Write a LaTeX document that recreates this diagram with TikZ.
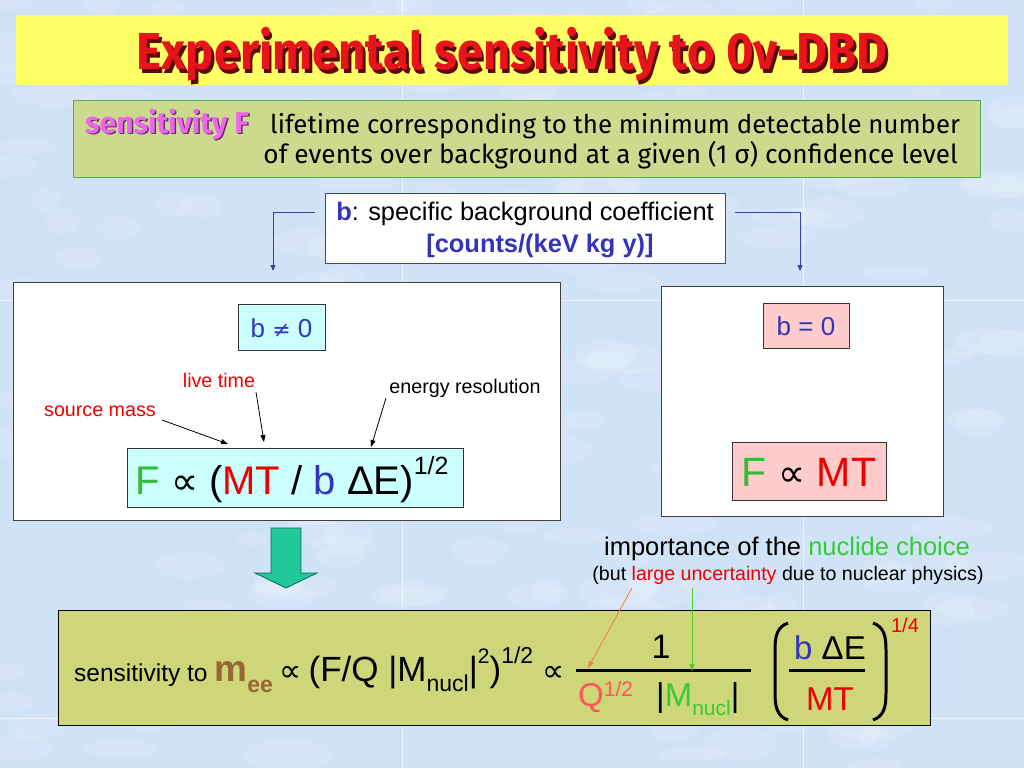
\documentclass[tikz,border=0pt]{standalone}
\usepackage{fontspec}
\setmainfont{Liberation Sans}
\newfontfamily\comic{Fira Sans}
\newfontfamily\symf{DejaVu Sans}
\usetikzlibrary{arrows.meta,calc}
\definecolor{bgblue}{HTML}{CFE2F6}
\definecolor{tyellow}{HTML}{FFFF66}
\definecolor{tred}{HTML}{E8141B}
\definecolor{tshadow}{HTML}{5A0A0A}
\definecolor{gboxfill}{HTML}{CCDA8E}
\definecolor{gboxdraw}{HTML}{55AA55}
\definecolor{bboxfill}{HTML}{CFD67A}
\definecolor{cyanfill}{HTML}{CCFFFF}
\definecolor{pinkfill}{HTML}{FFCCCC}
\definecolor{bblue}{HTML}{3333BB}
\definecolor{fgreen}{HTML}{33BB33}
\definecolor{ngreen}{HTML}{33CC33}
\definecolor{mred}{HTML}{EE0000}
\definecolor{qred}{HTML}{FF5555}
\definecolor{mbrown}{HTML}{996633}
\definecolor{magF}{HTML}{EE66EE}
\definecolor{magshadow}{HTML}{663366}
\definecolor{conblue}{HTML}{3344AA}
\definecolor{arrfill}{HTML}{20C997}
\definecolor{arrdraw}{HTML}{0E6655}
\definecolor{oarrow}{HTML}{F08040}
\definecolor{garrow}{HTML}{55CC22}
\newcommand{\fs}[1]{\fontsize{#1}{#1}\selectfont}
\newcommand{\myup}[2]{\raisebox{0.5em}{\fs{#1}#2}}
\newcommand{\mylowup}[2]{\raisebox{0.3em}{\fs{#1}#2}}
\newcommand{\mydown}[2]{\raisebox{-0.3em}{\fs{#1}#2}}
\newcommand{\shadowed}[4]{\rlap{\hspace{#4}\raisebox{-#4}{\textcolor{#2}{#1}}}\textcolor{#3}{#1}}
\begin{document}
\begin{tikzpicture}[x=1pt,y=-1pt,
  txt/.style={inner sep=0pt,anchor=base},
  panel/.style={draw=black!75,fill=white,line width=0.8pt,inner sep=0pt},
  cbox/.style={draw=black!80,fill=cyanfill,line width=0.8pt,inner sep=0pt},
  pbox/.style={draw=black!80,fill=pinkfill,line width=0.8pt,inner sep=0pt},
  conn/.style={draw=conblue,line width=0.8pt,-{Triangle[length=6pt,width=5pt]}},
  blk/.style={draw=black,line width=0.8pt,-{Triangle[length=7pt,width=5pt]}},
  thinarr/.style={line width=0.8pt,-{Triangle[length=7pt,width=5pt]}}]
\useasboundingbox (0,0) rectangle (1024,768);
\fill[bgblue] (0,0) rectangle (1024,768);
\pgfmathsetseed{11}
\foreach \i in {1,...,220}{
  \pgfmathsetmacro{\cx}{1024*rnd}
  \pgfmathsetmacro{\cy}{768*rnd}
  \pgfmathsetmacro{\rx}{15+30*rnd}
  \pgfmathsetmacro{\ry}{7+10*rnd}
  \fill[white,opacity=0.13] (\cx,\cy) ellipse [x radius=\rx, y radius=\ry];
}
\draw[white,opacity=0.7,line width=1pt] (402,0) -- (402,768) (803,0) -- (803,768) (0,300) -- (1024,300) (0,718) -- (1024,718);
% title
\node[fill=tyellow,minimum width=992,minimum height=70,inner sep=0pt] (titlebox) at (512,50) {};
\node[txt] (title) at (512,70) {\comic\bfseries\fs{52}\scalebox{0.91}[1]{\shadowed{Experimental sensitivity to 0ν-DBD}{tshadow}{tred}{3pt}}};
% green definition box
\node[fill=gboxfill,draw=gboxdraw,line width=0.8pt,minimum width=907,minimum height=77,inner sep=0pt] (defbox) at (526.5,138.5) {};
\node[txt,anchor=base west] (sensF) at (85,133) {\comic\bfseries\fs{30}\shadowed{sensitivity F}{magshadow}{magF}{1.5pt}};
\node[txt,anchor=base west] (def1) at (270,133) {\comic\fs{25.8}lifetime corresponding to the minimum detectable number};
\node[txt,anchor=base east] (def2) at (958,163) {\comic\fs{26.2}of events over background at a given (1 σ) confidence level};
% b box
\node[draw=conblue,fill=white,line width=0.8pt,minimum width=400,minimum height=70,inner sep=0pt] (bbox) at (525,228) {};
\node[txt] (b1) at (525,220) {\fs{25.4}\textcolor{bblue}{\bfseries b}: specific background coefficient};
\node[txt] (b2) at (540,252) {\fs{25.4}\bfseries\textcolor{bblue}{[counts/(keV kg y)]}};
\coordinate (lt) at (273,271);
\coordinate (rt) at (800,271);
\draw[conn] ($(bbox.north west)+(-10,20)$) -| (lt);
\draw[conn] ($(bbox.north east)+(10,20)$) -| (rt);
% left panel
\node[panel,minimum width=547,minimum height=238] (lpanel) at (286.5,401) {};
\node[cbox,minimum width=87,minimum height=46] (bne) at (281.5,327) {};
\node[txt] (bnet) at (281.5,337) {\fs{26}\textcolor{bblue}{b {\symf\fs{22}≠} 0}};
\node[txt,text=mred] (live) at (219,387) {\fs{19.7}live time};
\node[txt,text=mred] (source) at (100,416) {\fs{19.7}source mass};
\node[txt] (energy) at (465,393) {\fs{19.7}energy resolution};
\node[cbox,minimum width=336,minimum height=59] (fbox) at (295,477.5) {};
\node[txt] (ftext) at (292,494) {\fs{40}\textcolor{fgreen}{F} {\symf\fs{38}∝} (\textcolor{mred}{MT} / \textcolor{bblue}{b} ΔE)\myup{25}{1/2}};
\coordinate (sa) at (162,420); \coordinate (sb) at (228,444);
\coordinate (la) at (256,392); \coordinate (lb) at (264,442);
\coordinate (ea) at (386,398); \coordinate (eb) at (371,447);
\draw[blk] (sa) -- (sb);
\draw[blk] (la) -- (lb);
\draw[blk] (ea) -- (eb);
% right panel
\node[panel,minimum width=282,minimum height=230] (rpanel) at (802,401) {};
\node[pbox,minimum width=86,minimum height=45] (beq) at (806,325.5) {};
\node[txt] (beqt) at (806,335) {\fs{26}\textcolor{bblue}{b = 0}};
\node[pbox,minimum width=154,minimum height=58] (mtbox) at (809,471) {};
\node[txt] (mtt) at (809,486) {\fs{41}\textcolor{fgreen}{F} {\symf\fs{38}∝} \textcolor{mred}{MT}};
% green block arrow
\draw[fill=arrfill,draw=arrdraw,line width=0.8pt] (271,528) -- (301,528) -- (301,573) -- (317,573) -- (286,588) -- (255,573) -- (271,573) -- cycle;
% importance text
\node[txt] (imp1) at (787,555) {\fs{25.5}importance of the \textcolor{ngreen}{nuclide choice}};
\node[txt] (imp2) at (788,580) {\fs{19.6}(but \textcolor{mred}{large uncertainty} due to nuclear physics)};
% bottom box
\node[draw=black,fill=bboxfill,line width=0.8pt,minimum width=872,minimum height=115,inner sep=0pt] (botbox) at (494,667.5) {};
\node[txt,anchor=base west] (sens) at (74,681) {\fs{24.5}sensitivity to \textcolor{mbrown}{\bfseries\fs{37}m\mydown{23}{ee}} {\symf\fs{31}∝} \fs{35}(F/Q |M\mydown{23}{nucl}|\myup{21}{2})\myup{23}{1/2} {\symf\fs{31}∝}};
\node[txt] (one) at (661,658) {\fs{34}1};
\coordinate (fl1) at (576,670); \coordinate (fl2) at (751,670);
\draw[line width=3pt] (fl1) -- (fl2);
\node[txt,anchor=base west] (qhalf) at (578,706) {\fs{33}\textcolor{qred}{Q\mylowup{21}{1/2}}};
\node[txt,anchor=base west] (mnucl) at (656,706) {\fs{33}|\textcolor{ngreen}{M\mydown{21}{nucl}}|};
\draw[line width=3pt] (788,623) .. controls (777,627) and (775,636) .. (775,650) -- (775,693) .. controls (775,707) and (777,716) .. (788,720);
\draw[line width=3pt] (873,623) .. controls (884,627) and (886,636) .. (886,650) -- (886,693) .. controls (886,707) and (884,716) .. (873,720);
\node[txt] (bde) at (830,659) {\fs{33}\textcolor{bblue}{b} ΔE};
\coordinate (il1) at (789,670); \coordinate (il2) at (865,670);
\draw[line width=3pt] (il1) -- (il2);
\node[txt] (mtb) at (830,710) {\fs{33}\textcolor{mred}{MT}};
\node[txt,text=mred] (quarter) at (905,632) {\fs{20}1/4};
\coordinate (oa) at (632,588); \coordinate (ob) at (588,668);
\coordinate (ga) at (692,588); \coordinate (gb) at (692,671);
\draw[thinarr,draw=oarrow,fill=oarrow] (oa) -- (ob);
\draw[thinarr,draw=garrow,fill=garrow] (ga) -- (gb);
\end{tikzpicture}
\end{document}
